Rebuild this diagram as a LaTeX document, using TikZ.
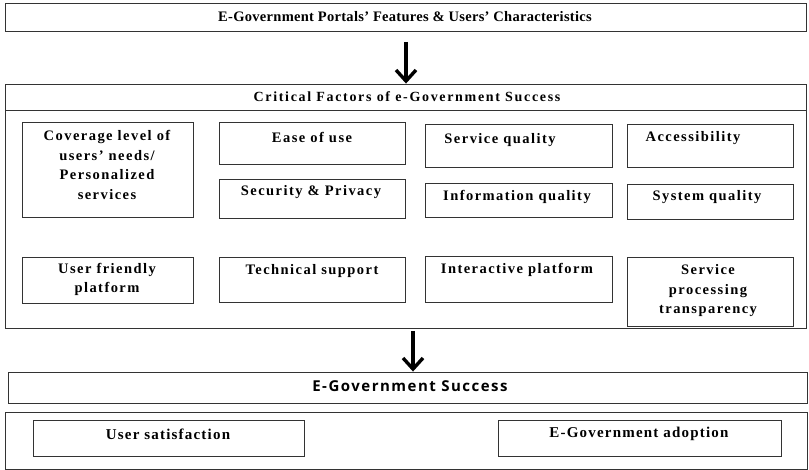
\documentclass[tikz,border=0pt]{standalone}
\usepackage{fontspec}
\setmainfont{Liberation Serif}
\newfontfamily\sansbold{Open Sans}
\usetikzlibrary{arrows.meta,fit}
\begin{document}
\begin{tikzpicture}[x=1pt,y=-1pt,
  frame/.style={draw=black!80, line width=0.9pt, rectangle, inner sep=0pt, minimum size=0pt},
  ibox/.style={draw=black!80, line width=0.9pt, rectangle, inner sep=0pt, minimum size=0pt},
  toptxt/.style={inner sep=0pt, align=center, font=\bfseries\fontsize{14.5}{17}\selectfont\addfontfeature{LetterSpace=2}},
  hdrtxt/.style={inner sep=0pt, align=center, font=\bfseries\fontsize{14}{17}\selectfont\addfontfeature{LetterSpace=12}},
  lbl/.style={inner sep=0pt, align=center, font=\bfseries\fontsize{14.5}{19.5}\selectfont\addfontfeature{LetterSpace=10}},
  outtxt/.style={inner sep=0pt, align=center, font=\bfseries\fontsize{15}{18}\selectfont\addfontfeature{LetterSpace=8}},
  suctxt/.style={inner sep=0pt, align=center, font=\sansbold\bfseries\fontsize{15}{18}\selectfont\addfontfeature{LetterSpace=10}},
  flow/.style={line width=3.4pt, -{Straight Barb[length=11pt,width=20pt,line width=3.4pt]}}
]
\useasboundingbox (0,0) rectangle (809,470);

% top box
\node[frame, fit={(5,3)(806,31)}] (top) {};
\node[toptxt] (toplbl) at (405,17) {E-Government Portals' Features \& Users' Characteristics};

% critical factors container
\node[frame, fit={(5,84)(806,328)}] (cf) {};
\node[frame, fit={(5,84)(806,110)}] (hdr) {};
\node[hdrtxt] (hdrlbl) at (407,97) {Critical Factors of e-Government Success};

% factor boxes
\node[ibox, fit={(22,122)(193,217)}] (cov) {};
\node[lbl] (covl) at (107,165) {Coverage level of\\users' needs/\\Personalized\\services};
\node[ibox, fit={(219,122)(405,164)}] (ease) {};
\node[lbl] (easel) at (312,137) {Ease of use};
\node[ibox, fit={(219,179)(405,218)}] (sec) {};
\node[lbl] (secl) at (311,192) {Security \& Privacy};
\node[ibox, fit={(425,124)(612,167)}] (sq) {};
\node[lbl] (sql) at (500,140) {Service quality};
\node[ibox, fit={(627,124)(793,167)}] (acc) {};
\node[lbl] (accl) at (693,138) {Accessibility};
\node[ibox, fit={(425,183)(612,217)}] (iq) {};
\node[lbl] (iql) at (517,197) {Information quality};
\node[ibox, fit={(627,184)(793,219)}] (sys) {};
\node[lbl] (sysl) at (707,197) {System quality};
\node[ibox, fit={(22,257)(193,303)}] (uf) {};
\node[lbl] (ufl) at (107,279.5) {User friendly\\platform};
\node[ibox, fit={(219,257)(405,302)}] (tech) {};
\node[lbl] (techl) at (312,271) {Technical support};
\node[ibox, fit={(425,256)(612,302)}] (inter) {};
\node[lbl] (interl) at (517,270) {Interactive platform};
\node[ibox, fit={(627,257)(793,326)}] (spt) {};
\node[lbl] (sptl) at (708,291) {Service\\processing\\transparency};

% success
\node[frame, fit={(8,372)(807,403)}] (succ) {};
\node[suctxt] (succl) at (410,386) {E-Government Success};
\node[frame, fit={(5,412)(807,469)}] (outc) {};
\node[ibox, fit={(33,420)(304,456)}] (us) {};
\node[outtxt] (usl) at (168,434) {User satisfaction};
\node[ibox, fit={(498,420)(781,456)}] (ad) {};
\node[outtxt] (adl) at (639,434) {E-Government adoption};

% arrows
\coordinate (a1) at (406,42);
\draw[flow] (a1) -- (a1 |- hdr.north);
\coordinate (a2) at (413,331);
\draw[flow] (a2) -- (a2 |- succ.north);
\end{tikzpicture}
\end{document}
